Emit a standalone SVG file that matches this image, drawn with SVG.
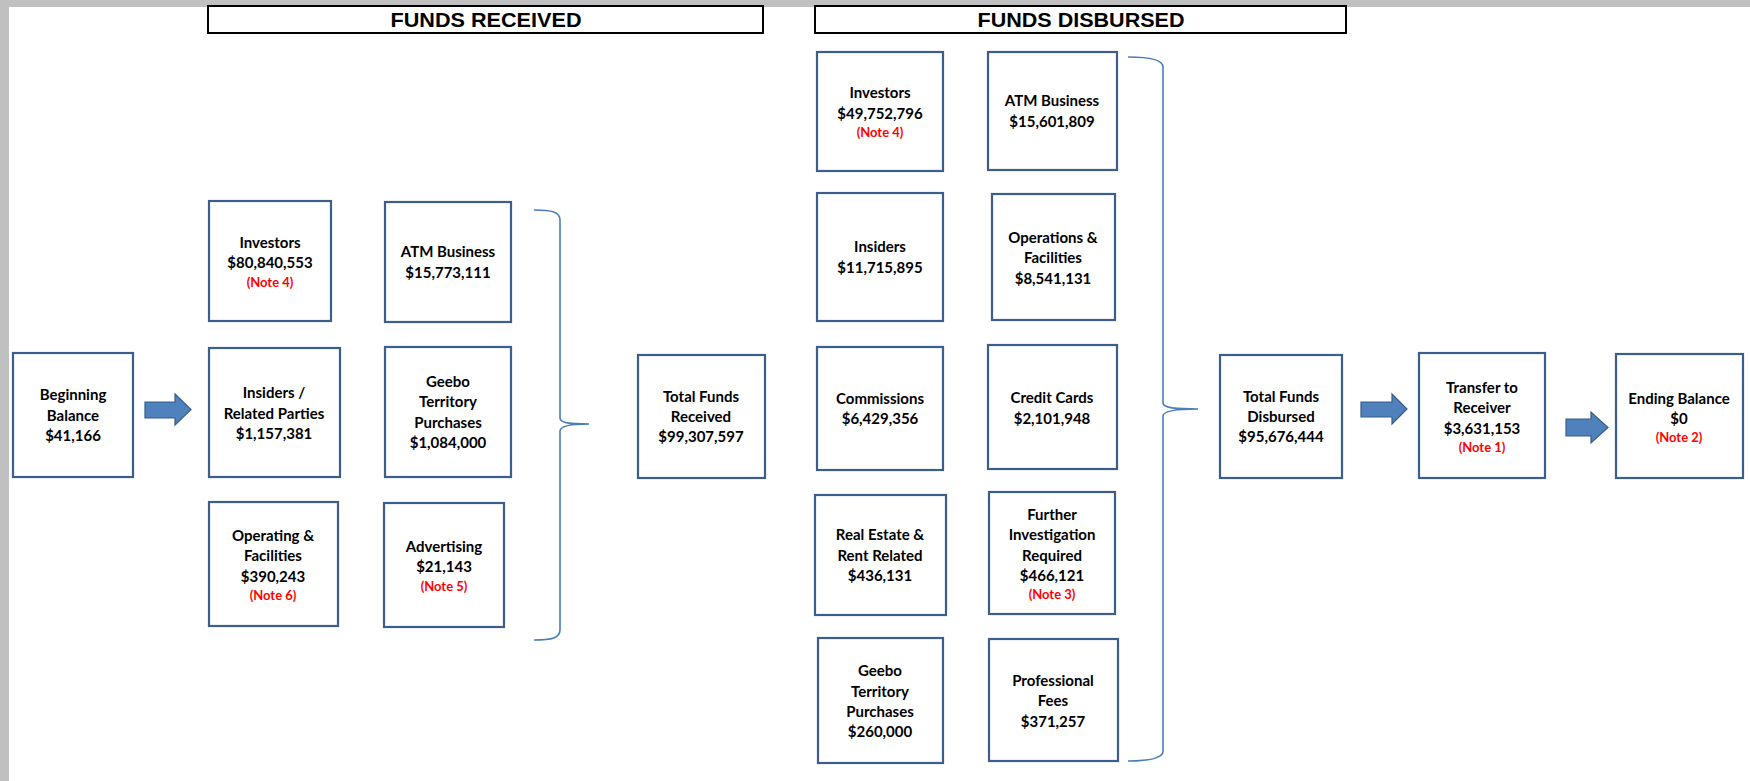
<svg xmlns="http://www.w3.org/2000/svg" width="1750" height="781" viewBox="0 0 1750 781">
<style>
.bx{fill:#fff;stroke:#3B5E8C;stroke-width:2.2}
.hd{fill:#fff;stroke:#000;stroke-width:2}
.t{font-family:Lato,"Open Sans","Liberation Sans",sans-serif;font-weight:700;font-size:15px;fill:#000;text-anchor:middle}
.n{font-family:Lato,"Open Sans","Liberation Sans",sans-serif;font-weight:700;font-size:13px;fill:#FF0000;text-anchor:middle}
.h{font-family:"Liberation Sans",Arial,sans-serif;font-weight:700;font-size:20.5px;fill:#000;text-anchor:middle}
.br{fill:none;stroke:#4A7EBB;stroke-width:1.6}
.ar{fill:#4F81BD;stroke:#385D8A;stroke-width:1.2}
</style>
<rect x="0" y="0" width="1750" height="781" fill="#fff"/>
<rect x="0" y="0" width="1750" height="7" fill="#C0C0C0"/>
<rect x="0" y="0" width="9" height="781" fill="#C0C0C0"/>

<g id="hdr-received"><rect class="hd" x="208" y="6" width="555" height="27"/><text class="h" x="486" y="27" textLength="191" lengthAdjust="spacingAndGlyphs">FUNDS RECEIVED</text></g>
<g id="hdr-disbursed"><rect class="hd" x="815" y="6" width="531" height="27"/><text class="h" x="1081" y="27" textLength="207" lengthAdjust="spacingAndGlyphs">FUNDS DISBURSED</text></g>

<g id="connectors">
<path class="br" d="M534,210 C552,210 560,212 560,220 L560,418 C560,423 570,424 589,424 C570,424 560,426 560,431 L560,630 C560,638 552,640 534,640"/>
<path class="br" d="M1128,57 C1146,57 1163,59 1163,67 L1163,403 C1163,408 1175,409 1198,409 C1175,409 1163,411 1163,416 L1163,751 C1163,759 1146,761 1128,761"/>
<polygon class="ar" points="145,402 175,402 175,394 191,409.5 175,425 175,418 145,418"/>
<polygon class="ar" points="1361,402 1392,402 1392,394 1407,409 1392,424 1392,417 1361,417"/>
<polygon class="ar" points="1566,419 1591,419 1591,412 1608,427.5 1591,443 1591,436 1566,436"/>
</g>

<g id="beginning-balance"><rect class="bx" x="13" y="353" width="120" height="124"/>
<text class="t" x="73" y="400">Beginning</text><text class="t" x="73" y="421">Balance</text><text class="t" x="73" y="441">$41,166</text></g>

<g id="rec-investors"><rect class="bx" x="209" y="201" width="122" height="120"/>
<text class="t" x="270" y="248">Investors</text><text class="t" x="270" y="268">$80,840,553</text><text class="n" x="270" y="287">(Note 4)</text></g>
<g id="rec-atm"><rect class="bx" x="385" y="202" width="126" height="120"/>
<text class="t" x="448" y="257">ATM Business</text><text class="t" x="448" y="278">$15,773,111</text></g>
<g id="rec-insiders"><rect class="bx" x="209" y="348" width="131" height="129"/>
<text class="t" x="274" y="398">Insiders /</text><text class="t" x="274" y="419">Related Parties</text><text class="t" x="274" y="439">$1,157,381</text></g>
<g id="rec-geebo"><rect class="bx" x="385" y="347" width="126" height="130"/>
<text class="t" x="448" y="387">Geebo</text><text class="t" x="448" y="407">Territory</text><text class="t" x="448" y="428">Purchases</text><text class="t" x="448" y="448">$1,084,000</text></g>
<g id="rec-operating"><rect class="bx" x="209" y="502" width="129" height="124"/>
<text class="t" x="273" y="541">Operating &amp;</text><text class="t" x="273" y="561">Facilities</text><text class="t" x="273" y="582">$390,243</text><text class="n" x="273" y="600">(Note 6)</text></g>
<g id="rec-advertising"><rect class="bx" x="384" y="503" width="120" height="124"/>
<text class="t" x="444" y="552">Advertising</text><text class="t" x="444" y="572">$21,143</text><text class="n" x="444" y="591">(Note 5)</text></g>

<g id="total-received"><rect class="bx" x="638" y="355" width="127" height="123"/>
<text class="t" x="701" y="402">Total Funds</text><text class="t" x="701" y="422">Received</text><text class="t" x="701" y="442">$99,307,597</text></g>

<g id="dis-investors"><rect class="bx" x="817" y="52" width="126" height="119"/>
<text class="t" x="880" y="98">Investors</text><text class="t" x="880" y="119">$49,752,796</text><text class="n" x="880" y="137">(Note 4)</text></g>
<g id="dis-atm"><rect class="bx" x="988" y="52" width="129" height="118"/>
<text class="t" x="1052" y="106">ATM Business</text><text class="t" x="1052" y="127">$15,601,809</text></g>
<g id="dis-insiders"><rect class="bx" x="817" y="193" width="126" height="128"/>
<text class="t" x="880" y="252">Insiders</text><text class="t" x="880" y="273">$11,715,895</text></g>
<g id="dis-operations"><rect class="bx" x="992" y="194" width="123" height="126"/>
<text class="t" x="1053" y="243">Operations &amp;</text><text class="t" x="1053" y="263">Facilities</text><text class="t" x="1053" y="284">$8,541,131</text></g>
<g id="dis-commissions"><rect class="bx" x="817" y="347" width="126" height="123"/>
<text class="t" x="880" y="404">Commissions</text><text class="t" x="880" y="424">$6,429,356</text></g>
<g id="dis-credit"><rect class="bx" x="988" y="345" width="129" height="124"/>
<text class="t" x="1052" y="403">Credit Cards</text><text class="t" x="1052" y="424">$2,101,948</text></g>
<g id="dis-realestate"><rect class="bx" x="815" y="495" width="131" height="120"/>
<text class="t" x="880" y="540">Real Estate &amp;</text><text class="t" x="880" y="561">Rent Related</text><text class="t" x="880" y="581">$436,131</text></g>
<g id="dis-further"><rect class="bx" x="989" y="492" width="126" height="122"/>
<text class="t" x="1052" y="520">Further</text><text class="t" x="1052" y="540">Investigation</text><text class="t" x="1052" y="561">Required</text><text class="t" x="1052" y="581">$466,121</text><text class="n" x="1052" y="599">(Note 3)</text></g>
<g id="dis-geebo"><rect class="bx" x="818" y="638" width="125" height="125"/>
<text class="t" x="880" y="676">Geebo</text><text class="t" x="880" y="697">Territory</text><text class="t" x="880" y="717">Purchases</text><text class="t" x="880" y="737">$260,000</text></g>
<g id="dis-professional"><rect class="bx" x="989" y="639" width="129" height="122"/>
<text class="t" x="1053" y="686">Professional</text><text class="t" x="1053" y="706">Fees</text><text class="t" x="1053" y="727">$371,257</text></g>

<g id="total-disbursed"><rect class="bx" x="1220" y="355" width="122" height="123"/>
<text class="t" x="1281" y="402">Total Funds</text><text class="t" x="1281" y="422">Disbursed</text><text class="t" x="1281" y="442">$95,676,444</text></g>
<g id="transfer-receiver"><rect class="bx" x="1419" y="353" width="126" height="125"/>
<text class="t" x="1482" y="393">Transfer to</text><text class="t" x="1482" y="413">Receiver</text><text class="t" x="1482" y="434">$3,631,153</text><text class="n" x="1482" y="452">(Note 1)</text></g>
<g id="ending-balance"><rect class="bx" x="1616" y="354" width="127" height="124"/>
<text class="t" x="1679" y="404">Ending Balance</text><text class="t" x="1679" y="424">$0</text><text class="n" x="1679" y="442">(Note 2)</text></g>
</svg>
